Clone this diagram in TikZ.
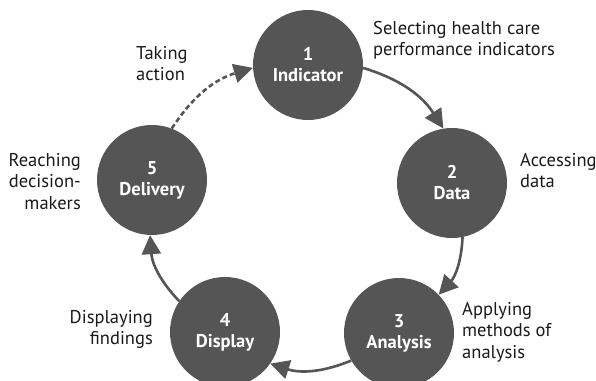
\documentclass[tikz,border=0pt]{standalone}
\usepackage{fontspec}
\setmainfont{PT Sans}
\usetikzlibrary{arrows.meta,positioning,calc}
\definecolor{stagegray}{HTML}{555555}
\definecolor{notetext}{HTML}{1A1A1A}

\begin{document}
\begin{tikzpicture}[x=1pt,y=-1pt,
	stage/.style={shape=circle,fill=stagegray,minimum size=110pt,inner sep=0pt,align=center,text=white,font=\bfseries\fontsize{18.5}{21}\selectfont},
	note/.style={inner sep=0pt,text=notetext,font=\fontsize{18.5}{21.5}\selectfont},
	flow/.style={color=stagegray,line width=2.6pt,-{Triangle[length=19pt,width=19pt]}}]
	\useasboundingbox (0,0) rectangle (596,380);
	\node[stage](IND) at (308,65) {1\\Indicator};
	\node[stage](DAT) at (452,183) {2\\Data};
	\node[stage](ANA) at (399,333) {3\\Analysis};
	\node[stage](DIS) at (225,332) {4\\Display};
	\node[stage](DEL) at (152,180) {5\\Delivery};
	\node[note,anchor=north west,align=left](SEL) at (373,21) {Selecting health care\\performance indicators};
	\node[note,anchor=north west,align=left](ACC) at (520,153) {Accessing\\data};
	\node[note,anchor=north west,align=left](APP) at (462,302) {Applying\\methods of\\analysis};
	\node[note,anchor=north east,align=right](DSP) at (153,310) {Displaying\\findings};
	\node[note,anchor=north east,align=right](REA) at (81,153) {Reaching\\decision-\\makers};
	\node[note,anchor=north west,align=left](TAK) at (136,46) {Taking\\action};
	\path[flow](IND.-3) edge[bend left=20] node {} (DAT.99);
	\path[flow](DAT.281) edge[bend left=20] node {} (ANA.44);
	\path[flow](ANA.210) edge[bend left=20] node {} (DIS.325);
	\path[flow](DIS.146) edge[bend left=20] node {} (DEL.268);
	\path[flow,dash pattern=on 5pt off 3pt](DEL.69) edge[bend left=20] node {} (IND.183);
\end{tikzpicture}
\end{document}
